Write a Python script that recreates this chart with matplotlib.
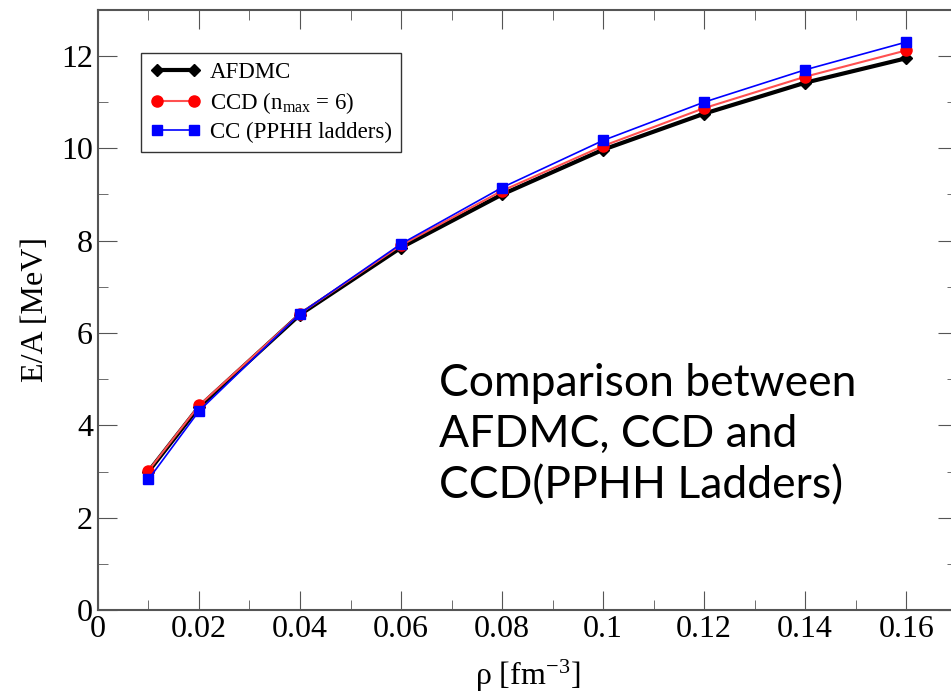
import matplotlib.pyplot as plt
import numpy as np

rho = [0.01, 0.02, 0.04, 0.06, 0.08, 0.10, 0.12, 0.14, 0.16]
afdmc = [3.00, 4.40, 6.40, 7.85, 9.00, 9.97, 10.75, 11.42, 11.95]
ccd = [3.02, 4.43, 6.42, 7.90, 9.08, 10.05, 10.87, 11.55, 12.12]
cc_ladders = [2.83, 4.31, 6.42, 7.93, 9.15, 10.17, 11.00, 11.70, 12.30]

xticks = [0, 0.02, 0.04, 0.06, 0.08, 0.1, 0.12, 0.14, 0.16]
xticklabels = ["0", "0.02", "0.04", "0.06", "0.08", "0.1", "0.12", "0.14", "0.16"]
yticks = [0, 2, 4, 6, 8, 10, 12]

plt.rcParams["font.family"] = ["Liberation Serif", "DejaVu Serif"]
plt.rcParams["mathtext.fontset"] = "custom"
plt.rcParams["mathtext.rm"] = "Liberation Serif"
plt.rcParams["mathtext.it"] = "Liberation Serif"

fig = plt.figure(figsize=(9.51, 6.98), dpi=100)
ax = fig.add_axes([0.103, 0.126, 0.903, 0.860])

ax.plot(rho, afdmc, color="black", lw=3, marker="D", ms=6, label="AFDMC")
ax.plot(rho, ccd, color="#ff5050", lw=1.5, marker="o", ms=8, mfc="red", mec="red", label=r"CCD (n$_{\rm max}$ = 6)")
ax.plot(rho, cc_ladders, color="blue", lw=1.2, marker="s", ms=7, label="CC (PPHH ladders)")

ax.set_xlim(0, 0.17)
ax.set_ylim(0, 13)
ax.set_xticks(xticks)
ax.set_xticklabels(xticklabels)
ax.set_yticks(yticks)
ax.set_xticks(np.arange(0.01, 0.17, 0.02), minor=True)
ax.set_yticks(np.arange(1, 13, 2), minor=True)
ax.tick_params(which="both", direction="in", top=True, right=True, labelsize=23, color="#555555")
ax.tick_params(which="major", length=14)
ax.tick_params(which="minor", length=7)
for s in ax.spines.values():
    s.set_color("#555555")
    s.set_linewidth(1.5)

ax.set_xlabel(r"$\rho$ [fm$^{-3}$]", fontsize=23, labelpad=10)
ax.set_ylabel("E/A [MeV]", fontsize=23, labelpad=8)

leg = ax.legend(loc="upper left", bbox_to_anchor=(0.05, 0.928), borderaxespad=0, fontsize=16.5, frameon=True,
                fancybox=False, numpoints=2, handlelength=2.2, borderpad=0.4, labelspacing=0.28,
                handletextpad=0.4)
leg.get_frame().set_edgecolor("black")
leg.get_frame().set_linewidth(1.0)

fig.text(0.462, 0.377, "Comparison between\nAFDMC, CCD and\nCCD(PPHH Ladders)", fontsize=32,
         family=["Lato", "DejaVu Sans"], va="center", ha="left", linespacing=1.3)

fig.savefig("out.png", dpi=100)
